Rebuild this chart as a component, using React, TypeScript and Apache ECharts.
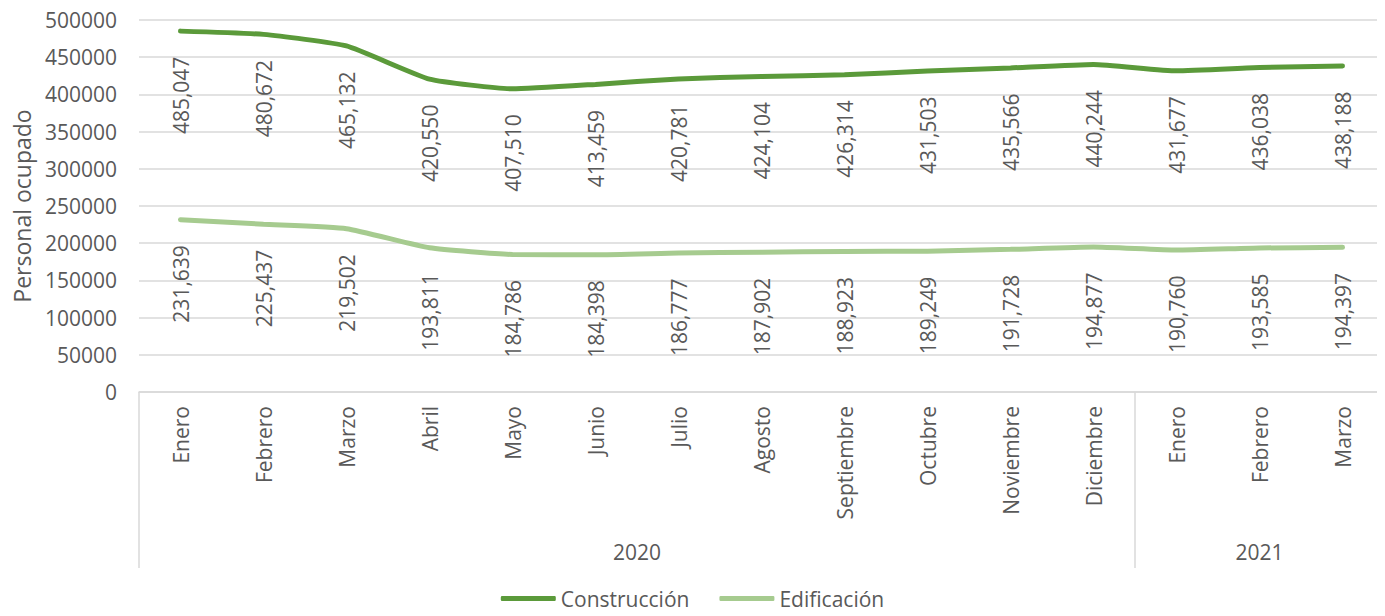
import React, { useEffect, useRef } from "react";
import * as echarts from "echarts";

const months = ["Enero","Febrero","Marzo","Abril","Mayo","Junio","Julio","Agosto","Septiembre","Octubre","Noviembre","Diciembre","Enero","Febrero","Marzo"];
const years = ["2020", "2021"];
const yearSpans = [12, 3];
const construccion = [485047, 480672, 465132, 420550, 407510, 413459, 420781, 424104, 426314, 431503, 435566, 440244, 431677, 436038, 438188];
const edificacion = [231639, 225437, 219502, 193811, 184786, 184398, 186777, 187902, 188923, 189249, 191728, 194877, 190760, 193585, 194397];
const yTicks = { min: 0, max: 500000, interval: 50000 };

const FONT = "Open Sans";
const GRAY = "#595959";
const GRID = "#d9d9d9";
const DARK = "#5b9a3a";
const LIGHT = "#a6cb8f";

export default function App() {
  const ref = useRef<HTMLDivElement>(null);
  useEffect(() => {
    const chart = echarts.init(ref.current!, null, { renderer: "svg" });
    const bounds: number[] = [0];
    const centers: number[] = [];
    let acc = 0;
    yearSpans.forEach((s) => {
      centers.push(acc + s / 2);
      acc += s;
      bounds.push(acc);
    });
    const labelCfg = {
      show: true,
      position: "bottom",
      distance: 25,
      rotate: 90,
      align: "right",
      verticalAlign: "middle",
      color: GRAY,
      fontFamily: FONT,
      fontSize: 21,
      formatter: (p: any) => Number(p.value).toLocaleString("en-US"),
    };
    chart.setOption({
      animation: false,
      grid: { left: 139, right: 1, top: 20, bottom: 224, containLabel: false },
      legend: {
        bottom: 2,
        left: "center",
        itemWidth: 55,
        itemHeight: 5,
        itemGap: 30,
        icon: "roundRect",
        textStyle: { color: GRAY, fontFamily: FONT, fontSize: 21 },
        data: [
          { name: "Construcción", itemStyle: { color: DARK } },
          { name: "Edificación", itemStyle: { color: LIGHT } },
        ],
      },
      xAxis: [
        {
          type: "category",
          data: months,
          boundaryGap: true,
          axisLine: { show: true, lineStyle: { color: GRID, width: 1.5 } },
          axisTick: { show: false },
          axisLabel: {
            rotate: 90,
            color: GRAY,
            fontFamily: FONT,
            fontSize: 21,
            margin: 14,
            interval: 0,
          },
        },
        {
          type: "value",
          min: 0,
          max: months.length,
          position: "bottom",
          offset: 176,
          axisLine: { show: false },
          splitLine: { show: false },
          axisTick: {
            show: true,
            inside: true,
            length: 176,
            customValues: bounds,
            lineStyle: { color: GRID, width: 1.5 },
          },
          axisLabel: {
            show: true,
            customValues: centers,
            inside: true,
            margin: 16,
            verticalAlign: "middle",
            color: GRAY,
            fontFamily: FONT,
            fontSize: 21,
            formatter: (v: number) => {
              const i = centers.findIndex((c) => Math.abs(c - v) < 1e-6);
              return i >= 0 ? years[i] : "";
            },
          },
        },
      ],
      yAxis: {
        type: "value",
        min: yTicks.min,
        max: yTicks.max,
        interval: yTicks.interval,
        name: "Personal ocupado",
        nameLocation: "middle",
        nameGap: 106,
        nameTextStyle: { color: GRAY, fontFamily: FONT, fontSize: 23 },
        axisLine: { show: false },
        axisTick: { show: false },
        splitLine: { show: true, lineStyle: { color: GRID, width: 1.5 } },
        axisLabel: {
          color: GRAY,
          fontFamily: FONT,
          fontSize: 21,
          margin: 22,
          formatter: (v: number) => String(v),
        },
      },
      series: [
        {
          name: "Construcción",
          type: "line",
          data: construccion,
          symbol: "circle",
          symbolSize: 1,
          showSymbol: true,
          smooth: 0.15,
          itemStyle: { color: DARK },
          lineStyle: { width: 5, color: DARK, cap: "round" },
          label: labelCfg,
        },
        {
          name: "Edificación",
          type: "line",
          data: edificacion,
          symbol: "circle",
          symbolSize: 1,
          showSymbol: true,
          smooth: 0.15,
          itemStyle: { color: LIGHT },
          lineStyle: { width: 5, color: LIGHT, cap: "round" },
          label: labelCfg,
        },
      ],
    });
    return () => chart.dispose();
  }, []);
  return <div ref={ref} style={{ width: 1385, height: 616, margin: -8 }} />;
}
